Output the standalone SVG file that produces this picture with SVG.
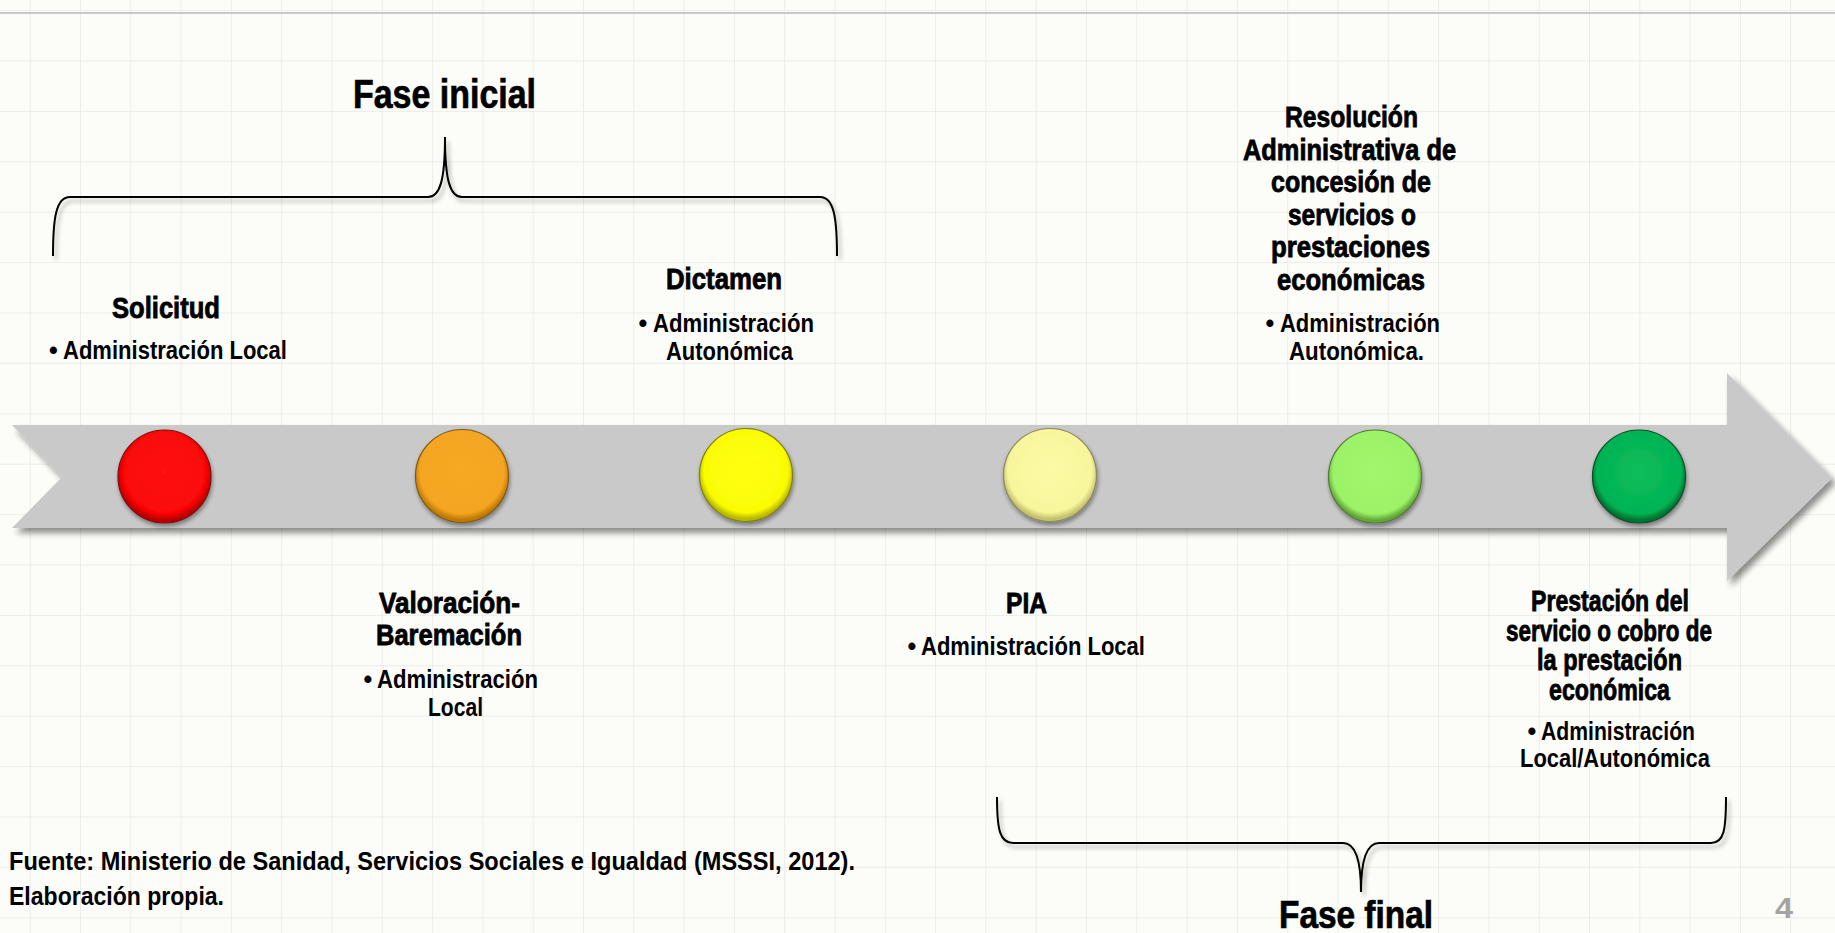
<svg xmlns="http://www.w3.org/2000/svg" width="1835" height="933" viewBox="0 0 1835 933">
<style>
.t{font-family:"Liberation Sans Narrow","Liberation Sans","DejaVu Sans Condensed",sans-serif;font-weight:bold;fill:#000}
.h{font-size:29px;stroke:#000;stroke-width:0.8px}
.b{font-size:25px}
.big{font-size:40px;stroke:#000;stroke-width:0.7px}
.src{font-size:26px}
.brace{fill:none;stroke:#000;stroke-width:2}
.gl{stroke:#e7e7e3;stroke-width:1.5}
</style>
<defs>
<pattern id="grid" x="29.7" y="10.1" width="50.3" height="50.4" patternUnits="userSpaceOnUse">
<line class="gl" x1="0" y1="0" x2="0" y2="50.4"/>
<line class="gl" x1="0" y1="0" x2="50.3" y2="0"/>
</pattern>
<filter id="sh" x="-5%" y="-20%" width="110%" height="150%">
<feGaussianBlur in="SourceAlpha" stdDeviation="3"/>
<feOffset dx="4" dy="5" result="o"/>
<feComponentTransfer><feFuncA type="linear" slope="0.45"/></feComponentTransfer>
<feMerge><feMergeNode/><feMergeNode in="SourceGraphic"/></feMerge>
</filter>
<filter id="bsh" x="-5%" y="-20%" width="110%" height="150%">
<feGaussianBlur in="SourceAlpha" stdDeviation="2"/>
<feOffset dx="3" dy="4" result="o"/>
<feComponentTransfer><feFuncA type="linear" slope="0.3"/></feComponentTransfer>
<feMerge><feMergeNode/><feMergeNode in="SourceGraphic"/></feMerge>
</filter>
<filter id="csh" x="-20%" y="-20%" width="140%" height="140%">
<feGaussianBlur in="SourceAlpha" stdDeviation="2"/>
<feOffset dx="1" dy="3" result="o"/>
<feComponentTransfer><feFuncA type="linear" slope="0.4"/></feComponentTransfer>
<feMerge><feMergeNode/><feMergeNode in="SourceGraphic"/></feMerge>
</filter>
<radialGradient id="gRed" cx="50%" cy="45%" r="52%"><stop offset="0" stop-color="#ff1212"/><stop offset="0.87" stop-color="#fb0606"/><stop offset="1" stop-color="#b80000"/></radialGradient>
<radialGradient id="gOra" cx="50%" cy="45%" r="52%"><stop offset="0" stop-color="#f7a925"/><stop offset="0.87" stop-color="#f4a520"/><stop offset="1" stop-color="#bf7a05"/></radialGradient>
<radialGradient id="gYel" cx="50%" cy="45%" r="52%"><stop offset="0" stop-color="#ffff10"/><stop offset="0.87" stop-color="#fbfb05"/><stop offset="1" stop-color="#b8b800"/></radialGradient>
<radialGradient id="gLY" cx="50%" cy="45%" r="52%"><stop offset="0" stop-color="#fcfaa6"/><stop offset="0.87" stop-color="#f8f69c"/><stop offset="1" stop-color="#c4c26c"/></radialGradient>
<radialGradient id="gLG" cx="50%" cy="45%" r="52%"><stop offset="0" stop-color="#a2f66e"/><stop offset="0.87" stop-color="#9cf267"/><stop offset="1" stop-color="#64a63a"/></radialGradient>
<radialGradient id="gGr" cx="50%" cy="45%" r="52%"><stop offset="0" stop-color="#0bbd5b"/><stop offset="0.87" stop-color="#03b353"/><stop offset="1" stop-color="#007230"/></radialGradient>
</defs>

<g id="background">
<rect x="0" y="0" width="1835" height="933" fill="#fcfcf8"/>
<rect x="0" y="0" width="1835" height="933" fill="url(#grid)"/>
<line x1="0" y1="13" x2="1835" y2="13" stroke="#c9c9c9" stroke-width="2"/>
</g>

<g id="connectors">
<polygon id="timeline" points="12,425 1727,425 1727,373 1832,478 1727,581 1727,528 12,528 62,477" fill="#c9c9c9" filter="url(#sh)"/>
</g>

<g id="brace-inicial" filter="url(#bsh)">
<path class="brace" d="M53 256 C53 218 56 197 70 197 L428 197 C440 197 445 180 445 137 C445 180 450 197 462 197 L820 197 C834 197 837 218 837 256"/>
</g>
<g id="brace-final" filter="url(#bsh)">
<path class="brace" d="M997 797 C997 830 1000 843 1013 843 L1343 843 C1355 843 1361 860 1361 892 C1361 860 1367 843 1379 843 L1711 843 C1724 843 1726 830 1726 797"/>
</g>

<g id="dot-solicitud"><circle cx="164.5" cy="476.5" r="46.5" fill="url(#gRed)" stroke="#7a1010" stroke-width="1.2" filter="url(#csh)"/></g>
<g id="dot-valoracion"><circle cx="462" cy="476" r="46.5" fill="url(#gOra)" stroke="#7d5a1a" stroke-width="1.2" filter="url(#csh)"/></g>
<g id="dot-dictamen"><circle cx="746" cy="475" r="46.5" fill="url(#gYel)" stroke="#7d7d1a" stroke-width="1.2" filter="url(#csh)"/></g>
<g id="dot-pia"><circle cx="1050" cy="475" r="46.5" fill="url(#gLY)" stroke="#8a8860" stroke-width="1.2" filter="url(#csh)"/></g>
<g id="dot-resolucion"><circle cx="1375" cy="476.5" r="46.5" fill="url(#gLG)" stroke="#4f7a35" stroke-width="1.2" filter="url(#csh)"/></g>
<g id="dot-prestacion"><circle cx="1639" cy="476.5" r="46.5" fill="url(#gGr)" stroke="#0f4a28" stroke-width="1.2" filter="url(#csh)"/></g>

<g id="label-fase-inicial">
<text class="t big" x="353" y="108" textLength="183" lengthAdjust="spacingAndGlyphs">Fase inicial</text>
</g>

<g id="node-solicitud">
<text class="t h" x="112" y="318" textLength="108" lengthAdjust="spacingAndGlyphs">Solicitud</text>
<text class="t b" x="49" y="359">•</text>
<text class="t b" x="63" y="359" textLength="224" lengthAdjust="spacingAndGlyphs">Administración Local</text>
</g>

<g id="node-dictamen">
<text class="t h" x="666" y="289" textLength="116" lengthAdjust="spacingAndGlyphs">Dictamen</text>
<text class="t b" x="638.5" y="332">•</text>
<text class="t b" x="653" y="332" textLength="161" lengthAdjust="spacingAndGlyphs">Administración</text>
<text class="t b" x="666" y="360" textLength="127" lengthAdjust="spacingAndGlyphs">Autonómica</text>
</g>

<g id="node-resolucion">
<text class="t h" x="1285" y="127" textLength="133" lengthAdjust="spacingAndGlyphs">Resolución</text>
<text class="t h" x="1243" y="159.5" textLength="213" lengthAdjust="spacingAndGlyphs">Administrativa de</text>
<text class="t h" x="1271" y="192" textLength="160" lengthAdjust="spacingAndGlyphs">concesión de</text>
<text class="t h" x="1288" y="224.5" textLength="128" lengthAdjust="spacingAndGlyphs">servicios o</text>
<text class="t h" x="1271" y="257" textLength="159" lengthAdjust="spacingAndGlyphs">prestaciones</text>
<text class="t h" x="1277" y="289.5" textLength="148" lengthAdjust="spacingAndGlyphs">económicas</text>
<text class="t b" x="1265.5" y="332">•</text>
<text class="t b" x="1280" y="332" textLength="160" lengthAdjust="spacingAndGlyphs">Administración</text>
<text class="t b" x="1289" y="360" textLength="135" lengthAdjust="spacingAndGlyphs">Autonómica.</text>
</g>

<g id="node-valoracion">
<text class="t h" x="379" y="613" textLength="141" lengthAdjust="spacingAndGlyphs">Valoración-</text>
<text class="t h" x="376" y="645" textLength="146" lengthAdjust="spacingAndGlyphs">Baremación</text>
<text class="t b" x="363.5" y="688">•</text>
<text class="t b" x="377" y="688" textLength="161" lengthAdjust="spacingAndGlyphs">Administración</text>
<text class="t b" x="428" y="716" textLength="55" lengthAdjust="spacingAndGlyphs">Local</text>
</g>

<g id="node-pia">
<text class="t h" x="1006" y="613" textLength="41" lengthAdjust="spacingAndGlyphs">PIA</text>
<text class="t b" x="907.5" y="655">•</text>
<text class="t b" x="921" y="655" textLength="224" lengthAdjust="spacingAndGlyphs">Administración Local</text>
</g>

<g id="node-prestacion">
<text class="t h" x="1531" y="611" textLength="158" lengthAdjust="spacingAndGlyphs">Prestación del</text>
<text class="t h" x="1506" y="641" textLength="206" lengthAdjust="spacingAndGlyphs">servicio o cobro de</text>
<text class="t h" x="1537" y="670" textLength="145" lengthAdjust="spacingAndGlyphs">la prestación</text>
<text class="t h" x="1549" y="700" textLength="121" lengthAdjust="spacingAndGlyphs">económica</text>
<text class="t b" x="1527.5" y="740">•</text>
<text class="t b" x="1541" y="740" textLength="154" lengthAdjust="spacingAndGlyphs">Administración</text>
<text class="t b" x="1520" y="767" textLength="190" lengthAdjust="spacingAndGlyphs">Local/Autonómica</text>
</g>

<g id="label-fase-final">
<text class="t big" x="1279" y="928" style="font-size:38px" textLength="154" lengthAdjust="spacingAndGlyphs">Fase final</text>
</g>

<g id="source">
<text class="t src" x="9" y="870" textLength="846" lengthAdjust="spacingAndGlyphs">Fuente: Ministerio de Sanidad, Servicios Sociales e Igualdad (MSSSI, 2012).</text>
<text class="t src" x="9" y="905" textLength="215" lengthAdjust="spacingAndGlyphs">Elaboración propia.</text>
</g>

<g id="page-number">
<text x="1775" y="918" font-family="Liberation Sans Narrow, Liberation Sans, sans-serif" font-weight="bold" font-size="29" fill="#a3a3a3" textLength="18" lengthAdjust="spacingAndGlyphs">4</text>
</g>
</svg>
